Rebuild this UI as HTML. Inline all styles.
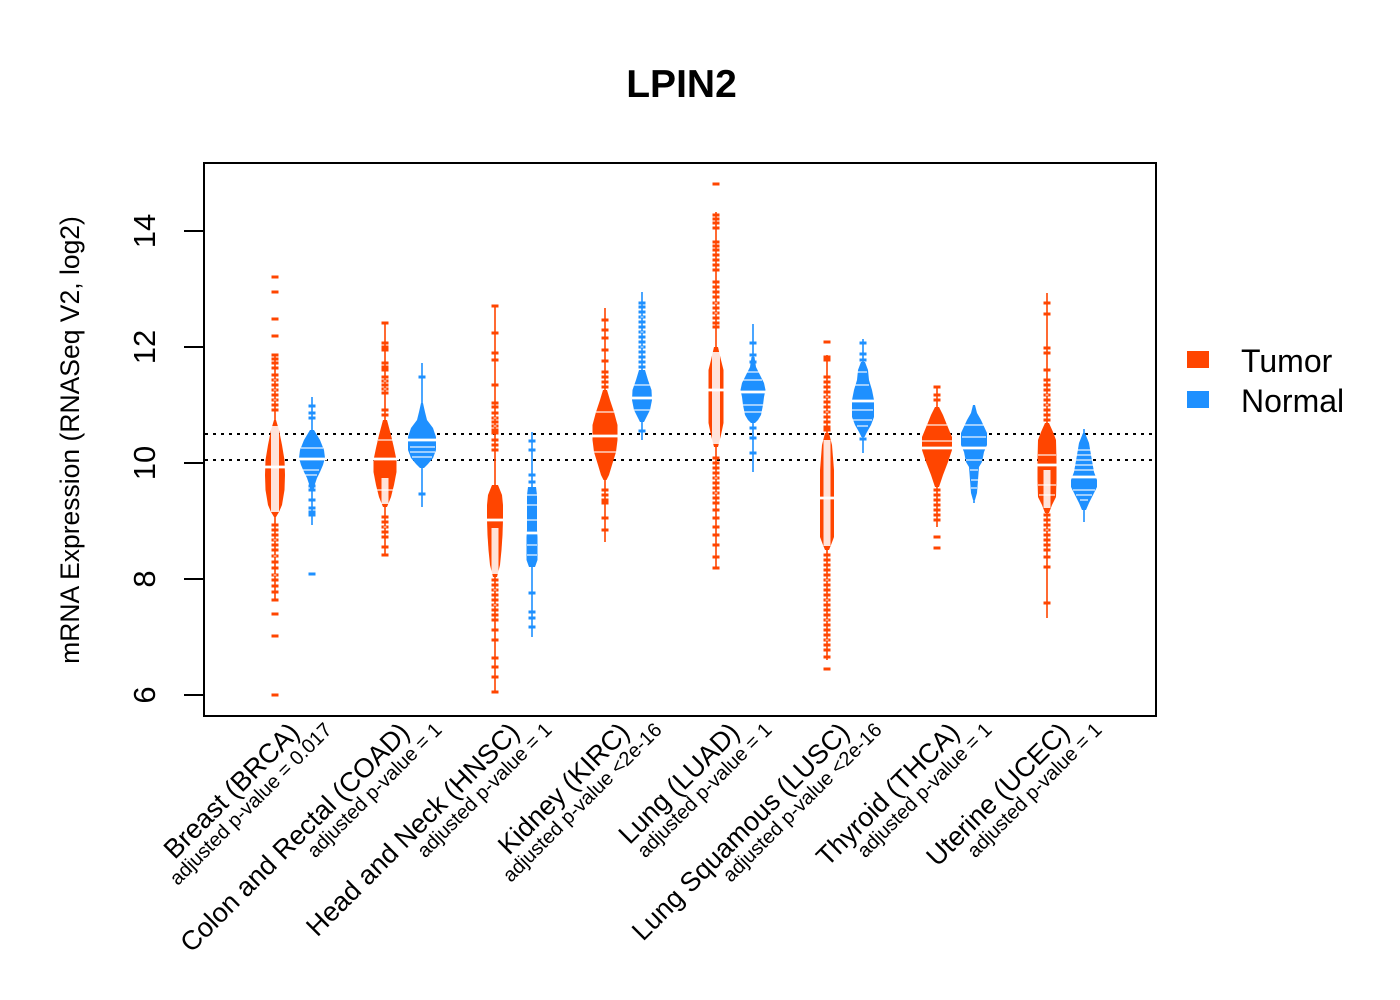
<!DOCTYPE html>
<html>
<head>
<meta charset="utf-8">
<style>
html,body{margin:0;padding:0;background:#fff;}
svg{display:block;}
text{font-family:"Liberation Sans",Arial,Helvetica,sans-serif;fill:#000;}
</style>
</head>
<body>
<svg width="1400" height="1000" viewBox="0 0 1400 1000" xmlns="http://www.w3.org/2000/svg">
<rect x="0" y="0" width="1400" height="1000" fill="#fff"/>

<!-- Title -->
<text x="681.5" y="97" font-size="39" font-weight="bold" text-anchor="middle">LPIN2</text>

<!-- dotted reference lines -->
<line x1="205" y1="434" x2="1155" y2="434" stroke="#000" stroke-width="2" stroke-dasharray="3,5"/>
<line x1="205" y1="460" x2="1155" y2="460" stroke="#000" stroke-width="2" stroke-dasharray="3,5"/>

<!-- ===== Tails (thin lines) ===== -->
<g stroke="#FF4500" stroke-width="1.6" fill="none">
<path d="M275 355V420M275 517V600M385 323V555M495 306V692M605 308V542M716 212V568M827 355V660M937 387V527M1047 293V618"/>
</g>
<g stroke="#1E90FF" stroke-width="1.6" fill="none">
<path d="M312 397V525M422 363V507M532 432V637M642 292V440M753 324V472M863 339V453M974 405V503M1084 429V522"/>
</g>

<!-- ===== Tumor marks ===== -->
<g stroke="#FF4500" stroke-width="3" fill="none">
<path d="M271.5 277h7M271.5 292h7M271.5 319h7M271.5 336h7M271.5 355h7M271.5 359h7M271.5 363h7M271.5 368h7M271.5 375h7M271.5 380h7M271.5 385h7M271.5 390h7M271.5 395h7M271.5 400h7M271.5 405h7M271.5 410h7M271.5 525h7M271.5 530h7M271.5 535h7M271.5 540h7M271.5 545h7M271.5 550h7M271.5 556h7M271.5 562h7M271.5 568h7M271.5 575h7M271.5 580h7M271.5 586h7M271.5 592h7M271.5 600h7M271.5 614h7M271.5 636h7M271.5 695h7"/>
<path d="M381.5 323h7M381.5 343h7M381.5 347h7M381.5 350h7M381.5 363h7M381.5 367h7M381.5 370h7M381.5 377h7M381.5 381h7M381.5 385h7M381.5 389h7M381.5 393h7M381.5 410h7M381.5 415h7M381.5 517h7M381.5 522h7M381.5 527h7M381.5 532h7M381.5 537h7M381.5 547h7M381.5 555h7"/>
<path d="M491.5 306h7M491.5 333h7M491.5 353h7M491.5 360h7M491.5 385h7M491.5 403h7M491.5 407h7M491.5 413h7M491.5 418h7M491.5 422h7M491.5 426h7M491.5 430h7M491.5 433h7M491.5 440h7M491.5 445h7M491.5 450h7M491.5 580h7M491.5 585h7M491.5 590h7M491.5 595h7M491.5 600h7M491.5 605h7M491.5 610h7M491.5 615h7M491.5 620h7M491.5 630h7M491.5 640h7M491.5 658h7M491.5 667h7M491.5 677h7M491.5 692h7"/>
<path d="M601.5 320h7M601.5 330h7M601.5 338h7M601.5 350h7M601.5 361h7M601.5 372h7M601.5 377h7M601.5 382h7M601.5 387h7M601.5 490h7M601.5 495h7M601.5 500h7M601.5 503h7M601.5 518h7M601.5 530h7"/>
<path d="M712.5 184h7M712.5 215h7M712.5 219h7M712.5 223h7M712.5 228h7M712.5 242h7M712.5 246h7M712.5 250h7M712.5 255h7M712.5 260h7M712.5 265h7M712.5 270h7M712.5 282h7M712.5 287h7M712.5 292h7M712.5 297h7M712.5 303h7M712.5 308h7M712.5 313h7M712.5 318h7M712.5 323h7M712.5 327h7M712.5 458h7M712.5 463h7M712.5 468h7M712.5 473h7M712.5 478h7M712.5 483h7M712.5 488h7M712.5 493h7M712.5 498h7M712.5 503h7M712.5 510h7M712.5 518h7M712.5 527h7M712.5 535h7M712.5 545h7M712.5 557h7M712.5 568h7"/>
<path d="M823.5 342h7M823.5 357h7M823.5 360h7M823.5 377h7M823.5 382h7M823.5 387h7M823.5 392h7M823.5 397h7M823.5 402h7M823.5 407h7M823.5 412h7M823.5 417h7M823.5 422h7M823.5 427h7M823.5 430h7M823.5 555h7M823.5 560h7M823.5 565h7M823.5 570h7M823.5 575h7M823.5 580h7M823.5 585h7M823.5 590h7M823.5 595h7M823.5 600h7M823.5 605h7M823.5 610h7M823.5 615h7M823.5 620h7M823.5 625h7M823.5 630h7M823.5 635h7M823.5 640h7M823.5 645h7M823.5 650h7M823.5 657h7M823.5 669h7"/>
<path d="M933.5 387h7M933.5 395h7M933.5 400h7M933.5 490h7M933.5 495h7M933.5 500h7M933.5 505h7M933.5 510h7M933.5 515h7M933.5 520h7M933.5 537h7M933.5 548h7"/>
<path d="M1043.5 303h7M1043.5 314h7M1043.5 348h7M1043.5 353h7M1043.5 370h7M1043.5 380h7M1043.5 385h7M1043.5 390h7M1043.5 395h7M1043.5 400h7M1043.5 405h7M1043.5 410h7M1043.5 415h7M1043.5 420h7M1043.5 515h7M1043.5 520h7M1043.5 525h7M1043.5 530h7M1043.5 535h7M1043.5 540h7M1043.5 545h7M1043.5 550h7M1043.5 557h7M1043.5 567h7M1043.5 603h7"/>
</g>

<!-- ===== Normal marks ===== -->
<g stroke="#1E90FF" stroke-width="3" fill="none">
<path d="M308.5 406h7M308.5 413h7M308.5 418h7M308.5 486h7M308.5 490h7M308.5 500h7M308.5 508h7M308.5 512h7M308.5 515h7M308.5 574h7"/>
<path d="M418.5 377h7M418.5 494h7"/>
<path d="M528.5 441h7M528.5 450h7M528.5 475h7M528.5 482h7M528.5 593h7M528.5 612h7M528.5 618h7M528.5 627h7"/>
<path d="M638.5 303h7M638.5 307h7M638.5 312h7M638.5 317h7M638.5 322h7M638.5 327h7M638.5 332h7M638.5 337h7M638.5 342h7M638.5 347h7M638.5 352h7M638.5 357h7M638.5 362h7M638.5 367h7M638.5 431h7"/>
<path d="M749.5 343h7M749.5 355h7M749.5 362h7M749.5 428h7M749.5 438h7M749.5 453h7"/>
<path d="M859.5 343h7M859.5 354h7M859.5 360h7M859.5 439h7"/>
</g>

<!-- ===== Bean polygons ===== -->
<g fill="#FF4500" stroke="none">
<polygon points="276,420 279,430 282,445 284.5,460 285,475 284.5,490 282,505 279,512 276,517 274,517 271,512 268,505 265.5,490 265,475 265.5,460 268,445 271,430 274,420"/>
<polygon points="387,420 391,435 394,448 396.5,460 396.5,472 394,485 391,497 387,507 383,507 379,497 376,485 373.5,472 373.5,460 376,448 379,435 383,420"/>
<polygon points="498,485 502,495 503,505 503,520 502.5,535 501.5,550 500,565 497,577 493,577 490,565 488.5,550 487.5,535 487,520 487,505 488,495 492,485"/>
<polygon points="607,390 610,400 614,412 617.5,425 617.5,440 616,452 612,465 609,475 606.5,480 603.5,480 601,475 598,465 594,452 592.5,440 592.5,425 596,412 600,400 603,390"/>
<polygon points="718,347 721,360 723.5,370 723.5,423 721,435 718,447 714,447 711,435 708.5,423 708.5,370 711,360 714,347"/>
<polygon points="829,433 832,445 834,470 834,537 831,545 829,550 825,550 823,545 820,537 820,470 822,445 825,433"/>
<polygon points="939,407 943,415 947,425 952,437 952,450 948,462 943,475 939,487 935,487 931,475 926,462 922,450 922,437 927,425 931,415 935,407"/>
<polygon points="1049,423 1053,432 1056,440 1056.5,460 1056.5,480 1056,497 1052,505 1049,513 1045,513 1042,505 1038,497 1037.5,480 1037.5,460 1038,440 1041,432 1045,423"/>
</g>
<g fill="#1E90FF" stroke="none">
<polygon points="314,430 320,440 324,450 325,458 323,465 320,472 317,478 315,484 313.5,490 310.5,490 309,484 307,478 304,472 301,465 299,458 300,450 304,440 310,430"/>
<polygon points="423,403 425,412 427,420 433,428 436,437 436,450 433,458 428,464 424,468 420,468 416,464 411,458 408,450 408,437 411,428 417,420 419,412 421,403"/>
<polygon points="536,487 537,495 537,530 537.5,537 537.5,560 535,567 529,567 526.5,560 526.5,537 527,530 527,495 528,487"/>
<polygon points="645,370 648,380 651.5,390 652,400 650,410 646,418 644,422 640,422 638,418 634,410 632,400 632.5,390 636,380 639,370"/>
<polygon points="754.5,357 756,367 760,375 764,383 765.5,390 764,397 763,405 761,415 758,420 755,423 751,423 748,420 745,415 743,405 742,397 740.5,390 742,383 746,375 750,367 751.5,357"/>
<polygon points="865,362 868,370 869,380 872,390 874,400 874,417 871,425 867,432 864.5,437 861.5,437 859,432 855,425 852,417 852,400 854,390 857,380 858,370 861,362"/>
<polygon points="975,405 977,413 981,420 987,433 987,445 984,452 982,462 979,467 978,480 977,493 975,500 973,500 971,493 970,480 969,467 966,462 964,452 961,445 961,433 967,420 971,413 973,405"/>
<polygon points="1085,433 1089,443 1091,455 1094,472 1097,480 1097,487 1093,495 1089,503 1086,510 1082,510 1079,503 1075,495 1071,487 1071,480 1074,472 1077,455 1079,443 1083,433"/>
</g>

<!-- white interior (dense beanlines) for tumor beans -->
<g fill="#fff" opacity="0.85">
<rect x="271" y="426" width="8" height="86"/>
<rect x="381.5" y="478" width="7" height="26"/>
<rect x="491.5" y="528" width="7" height="46"/>
<rect x="712" y="352" width="8" height="92"/>
<rect x="823.5" y="440" width="7" height="106"/>
<rect x="1043.5" y="470" width="7" height="38"/>
</g>
<!-- light tail marks interior (hollow look) -->
<g stroke="#fff" stroke-width="1" fill="none" opacity="0.9">
<path d="M273.5 380h3M273.5 390h3M273.5 400h3M273.5 540h3M273.5 556h3M273.5 575h3M383.5 381h3M383.5 389h3M383.5 527h3M493.5 418h3M493.5 426h3M493.5 590h3M493.5 605h3M714.5 303h3M714.5 313h3M714.5 478h3M714.5 493h3M825.5 397h3M825.5 412h3M825.5 580h3M825.5 600h3M825.5 620h3M825.5 640h3M1045.5 395h3M1045.5 405h3M1045.5 530h3M640.5 317h3M640.5 332h3M640.5 347h3"/>
</g>

<!-- beanlines (white) in beans -->
<g stroke="#fff" stroke-width="1.2" opacity="0.9">
<path d="M301 448h22M303 470h16M305 475h12M410 447h25M410 452h25M412 457h20M527 495h10M527 505h10M527 520h10M527 545h10M527 555h10M634 385h16M634 410h16M745 372h14M742 380h20M743 405h20M744 412h18M855 372h12M853 385h16M852 410h21M853 420h19M857 426h11M963 425h22M962 437h24M966 460h16M970 470h8M971 480h7M971 488h6M1077 450h14M1076 455h16M1075 460h18M1074 465h20M1073 470h22M1073 490h22M1076 495h16M1080 500h8M927 425h20M922 441h30M1038 455h18M1038 485h18M1039 495h16M596 412h18M594 452h22M378 440h16M376 490h20"/>
</g>

<!-- medians -->
<g stroke="#fff" stroke-width="2.8">
<path d="M262 467h26M297 459h30M371 459h28M405 440h34M485 520h20M524 533h16M590 436h30M630 398h24M706 390h20M738 392h30M817 498h20M850 401h26M919 448h36M959 448h30M1035 465h24M1069 477h30"/>
</g>

<!-- plot box -->
<rect x="204" y="163" width="952" height="553" fill="none" stroke="#000" stroke-width="2"/>

<!-- y axis ticks -->
<g stroke="#000" stroke-width="2">
<path d="M184 231H204M184 347H204M184 463H204M184 579H204M184 695H204"/>
</g>
<g font-size="31" text-anchor="middle">
<text transform="translate(155,231) rotate(-90)">14</text>
<text transform="translate(155,347) rotate(-90)">12</text>
<text transform="translate(155,463) rotate(-90)">10</text>
<text transform="translate(155,579) rotate(-90)">8</text>
<text transform="translate(155,695) rotate(-90)">6</text>
</g>
<text transform="translate(79,440) rotate(-90)" font-size="26.5" text-anchor="middle">mRNA Expression (RNASeq V2, log2)</text>

<!-- x labels -->
<g font-size="27" text-anchor="end">
<text transform="translate(301,734) rotate(-45)">Breast (BRCA)</text>
<text transform="translate(411,734) rotate(-45)">Colon and Rectal (COAD)</text>
<text transform="translate(521,734) rotate(-45)">Head and Neck (HNSC)</text>
<text transform="translate(631,734) rotate(-45)">Kidney (KIRC)</text>
<text transform="translate(741,734) rotate(-45)">Lung (LUAD)</text>
<text transform="translate(851,734) rotate(-45)">Lung Squamous (LUSC)</text>
<text transform="translate(961,734) rotate(-45)">Thyroid (THCA)</text>
<text transform="translate(1071,734) rotate(-45)">Uterine (UCEC)</text>
</g>
<g font-size="20" text-anchor="end">
<text transform="translate(333,731) rotate(-45)">adjusted p-value = 0.017</text>
<text transform="translate(443,731) rotate(-45)">adjusted p-value = 1</text>
<text transform="translate(553,731) rotate(-45)">adjusted p-value = 1</text>
<text transform="translate(663,731) rotate(-45)">adjusted p-value &lt;2e-16</text>
<text transform="translate(773,731) rotate(-45)">adjusted p-value = 1</text>
<text transform="translate(883,731) rotate(-45)">adjusted p-value &lt;2e-16</text>
<text transform="translate(993,731) rotate(-45)">adjusted p-value = 1</text>
<text transform="translate(1103,731) rotate(-45)">adjusted p-value = 1</text>
</g>

<!-- legend -->
<rect x="1187" y="351" width="22" height="17" fill="#FF4500"/>
<rect x="1187" y="391" width="22" height="17" fill="#1E90FF"/>
<text x="1241" y="372" font-size="32">Tumor</text>
<text x="1241" y="412" font-size="32">Normal</text>
</svg>
</body>
</html>
